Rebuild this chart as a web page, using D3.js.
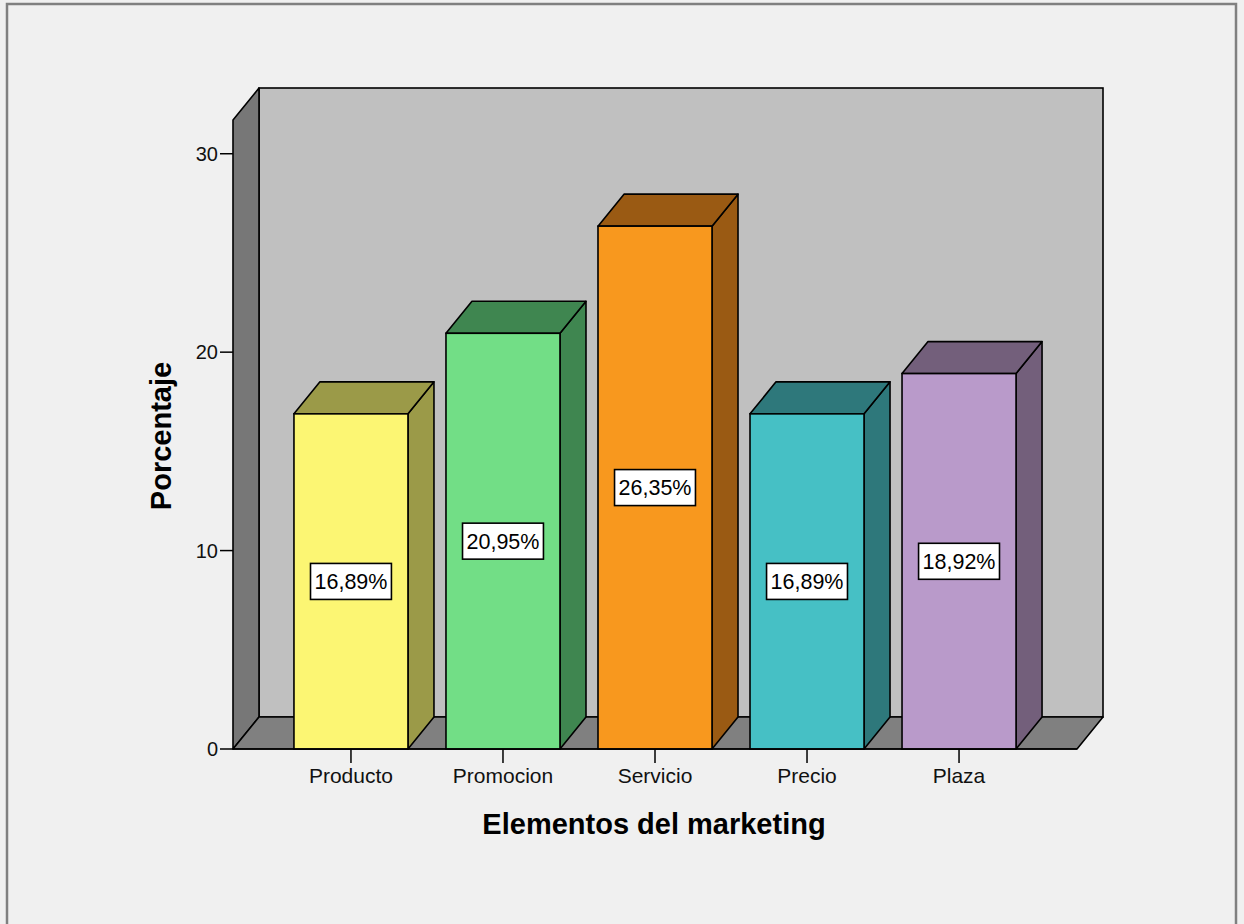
<!DOCTYPE html>
<html>
<head>
<meta charset="utf-8">
<script src="https://cdn.jsdelivr.net/npm/d3@7"></script>
<style>
  html, body { margin: 0; padding: 0; background: #f0f0f0; }
  svg { display: block; }
  text { font-family: Arial, "Liberation Sans", sans-serif; }
</style>
</head>
<body>
<svg id="chart" width="1244" height="924"></svg>
<script>
// ---- data ----
const categories = ["Producto", "Promocion", "Servicio", "Precio", "Plaza"];
const values = [16.89, 20.95, 26.35, 16.89, 18.92];
const valueLabels = ["16,89%", "20,95%", "26,35%", "16,89%", "18,92%"];
const yTicks = [0, 10, 20, 30];
const frontColors = ["#fcf673", "#72de86", "#f8981e", "#46c0c5", "#b99aca"];
const darkColors = ["#9b9a48", "#3f8650", "#9a5a13", "#2e787b", "#735f7b"];
const xTitle = "Elementos del marketing";
const yTitle = "Porcentaje";

// ---- layout ----
const svg = d3.select("#chart");
const left = 233, right = 1077, bottom = 749;
const dx = 26, dy = 32;
const y = d3.scaleLinear().domain([0, 31.7]).range([bottom, 120]);
const x = d3.scaleBand().domain(categories).range([left, right])
  .paddingInner(0.25).paddingOuter(0.401);

const stroke = "#000", sw = 1.6;

// outer frame
svg.append("rect").attr("x", 7).attr("y", 4).attr("width", 1229).attr("height", 930)
  .attr("fill", "#f0f0f0").attr("stroke", "#808080").attr("stroke-width", 2.5);

const yTop = y.range()[1];
// back wall
svg.append("rect").attr("x", left + dx).attr("y", yTop - dy)
  .attr("width", right - left).attr("height", bottom - yTop)
  .attr("fill", "#c0c0c0").attr("stroke", stroke).attr("stroke-width", sw);
// left wall
svg.append("polygon")
  .attr("points", [[left, yTop], [left + dx, yTop - dy], [left + dx, bottom - dy], [left, bottom]].join(" "))
  .attr("fill", "#777777").attr("stroke", stroke).attr("stroke-width", sw).attr("stroke-linejoin", "round");
// floor
svg.append("polygon")
  .attr("points", [[left, bottom], [left + dx, bottom - dy], [right + dx, bottom - dy], [right, bottom]].join(" "))
  .attr("fill", "#808080").attr("stroke", stroke).attr("stroke-width", sw).attr("stroke-linejoin", "round");

// y axis ticks
const yg = svg.append("g");
yg.selectAll("line").data(yTicks).join("line")
  .attr("x1", left - 13).attr("x2", left).attr("y1", d => y(d)).attr("y2", d => y(d))
  .attr("stroke", "#000").attr("stroke-width", 1.5);
yg.selectAll("text").data(yTicks).join("text")
  .attr("x", left - 15).attr("y", d => y(d)).attr("dy", "0.36em")
  .attr("text-anchor", "end").attr("font-size", 20).attr("fill", "#111")
  .text(d => d);

// bars
const bars = svg.append("g");
categories.forEach((c, i) => {
  const x0 = x(c), x1 = x0 + x.bandwidth(), yt = y(values[i]);
  const g = bars.append("g");
  g.append("polygon")
    .attr("points", [[x1, yt], [x1 + dx, yt - dy], [x1 + dx, bottom - dy], [x1, bottom]].join(" "))
    .attr("fill", darkColors[i]).attr("stroke", stroke).attr("stroke-width", sw).attr("stroke-linejoin", "round");
  g.append("polygon")
    .attr("points", [[x0, yt], [x0 + dx, yt - dy], [x1 + dx, yt - dy], [x1, yt]].join(" "))
    .attr("fill", darkColors[i]).attr("stroke", stroke).attr("stroke-width", sw).attr("stroke-linejoin", "round");
  g.append("rect").attr("x", x0).attr("y", yt).attr("width", x1 - x0).attr("height", bottom - yt)
    .attr("fill", frontColors[i]).attr("stroke", stroke).attr("stroke-width", sw);
});

// front axis line
svg.append("line").attr("x1", left).attr("x2", right).attr("y1", bottom).attr("y2", bottom)
  .attr("stroke", "#000").attr("stroke-width", sw);

// value labels
categories.forEach((c, i) => {
  const cx = x(c) + x.bandwidth() / 2;
  const cy = (y(values[i]) + bottom) / 2;
  const g = svg.append("g");
  const rect = g.append("rect");
  const t = g.append("text").attr("x", cx).attr("y", cy).attr("dy", "0.36em")
    .attr("text-anchor", "middle").attr("font-size", 21.5).attr("fill", "#000")
    .text(valueLabels[i]);
  const bb = t.node().getBBox();
  const w = bb.width + 8, h = 36;
  rect.attr("x", cx - w / 2).attr("y", cy - h / 2).attr("width", w).attr("height", h)
    .attr("fill", "#fff").attr("stroke", "#000").attr("stroke-width", 1.6);
});

// x axis ticks and labels
const xg = svg.append("g");
xg.selectAll("line").data(categories).join("line")
  .attr("x1", d => x(d) + x.bandwidth() / 2).attr("x2", d => x(d) + x.bandwidth() / 2)
  .attr("y1", bottom).attr("y2", bottom + 14)
  .attr("stroke", "#000").attr("stroke-width", 1.5);
xg.selectAll("text").data(categories).join("text")
  .attr("x", d => x(d) + x.bandwidth() / 2).attr("y", 783)
  .attr("text-anchor", "middle").attr("font-size", 21).attr("fill", "#111")
  .text(d => d);

// titles
svg.append("text").attr("x", 654).attr("y", 834).attr("text-anchor", "middle")
  .attr("font-size", 29).attr("font-weight", "bold").attr("fill", "#000").text(xTitle);
svg.append("text").attr("transform", "translate(171,436) rotate(-90)")
  .attr("text-anchor", "middle").attr("font-size", 29).attr("font-weight", "bold")
  .attr("fill", "#000").text(yTitle);
</script>
</body>
</html>
